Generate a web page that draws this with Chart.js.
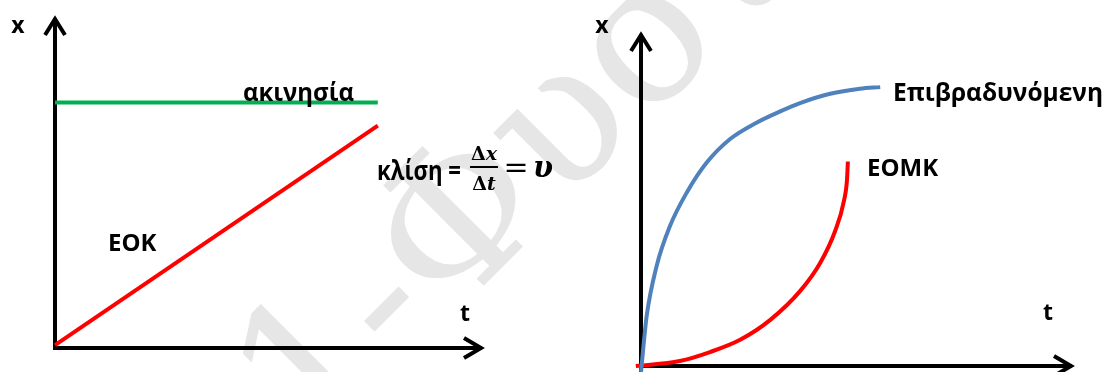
<!DOCTYPE html>
<html>
<head>
<meta charset="utf-8">
<script src="https://cdn.jsdelivr.net/npm/chart.js@4/dist/chart.umd.min.js"></script>
<style>
  html, body { margin: 0; padding: 0; background: #fff; }
  #wrap { position: relative; width: 1104px; height: 372px; overflow: hidden; }
  .mark {
    position: absolute; left: 108px; top: 428px;
    font: 195px 'DejaVu Serif', serif; color: #e6e6e6;
    transform: rotate(-45deg); transform-origin: left top;
    white-space: nowrap; line-height: 1;
  }
  .panel { position: absolute; top: 0; width: 552px; height: 372px; }
  canvas { display: block; }
</style>
</head>
<body>
<div id="wrap">
  <div class="mark">01-Φυσική</div>
  <div class="panel" style="left:0"><canvas id="uniform" width="552" height="372"></canvas></div>
  <div class="panel" style="left:552px"><canvas id="accel" width="552" height="372"></canvas></div>
</div>
<script>
// Axis names
const axisNames = ['x', 't'];

// Left panel: rest and uniform motion (time, position)
const restT = [0, 75.6];
const restX = [74.4, 74.4];
const uniformT = [0, 75.6];
const uniformX = [0.9, 67.4];

// Right panel: decelerating and uniformly accelerated motion
const decelT = [0, 1.3, 3.6, 6.7, 10.6, 15.2, 20.6, 26.8, 32.3, 36.9, 43.9, 50.8, 55.5];
const decelX = [-1.8, 14.9, 30, 42.1, 52.2, 61.2, 68.3, 73.3, 76.7, 79.2, 82, 83.5, 84];
const accelT = [-1.2, 9, 16, 23, 30, 37, 41.6, 45, 47.1, 47.8, 48];
const accelX = [0, 1.5, 4.2, 7.9, 13.9, 22.7, 31.1, 40.5, 49.8, 56.2, 61.6];

const seriesNames = ['ακινησία', 'ΕΟΚ', 'Επιβραδυνόμενη', 'ΕΟΜΚ'];

const pts = (ts, xs) => ts.map((t, i) => ({ x: t, y: xs[i] }));
const SANS = "'Open Sans', 'Noto Sans', sans-serif";
const SERIF = "'DejaVu Serif', 'Liberation Serif', serif";

// Black axes with open arrow heads, drawn under the curves
const arrowAxes = {
  id: 'arrowAxes',
  beforeDatasetsDraw(chart, args, o) {
    const { ctx, chartArea: a } = chart;
    ctx.save();
    ctx.strokeStyle = '#000';
    ctx.lineWidth = 4;
    ctx.lineCap = 'butt';
    ctx.lineJoin = 'miter';
    ctx.beginPath();
    ctx.moveTo(a.left, a.bottom + o.below);
    ctx.lineTo(a.left, a.top);
    ctx.moveTo(a.left - 2, a.bottom);
    ctx.lineTo(a.right, a.bottom);
    ctx.stroke();
    ctx.beginPath();
    ctx.moveTo(a.left - 10, a.top + 17);
    ctx.lineTo(a.left, a.top + 1);
    ctx.lineTo(a.left + 10, a.top + 17);
    ctx.moveTo(a.right - 18, a.bottom - 10);
    ctx.lineTo(a.right - 1, a.bottom);
    ctx.lineTo(a.right - 18, a.bottom + 10);
    ctx.stroke();
    ctx.restore();
  }
};

// Text annotations
const annotations = {
  id: 'annotations',
  afterDatasetsDraw(chart, args, o) {
    const ctx = chart.ctx;
    ctx.save();
    ctx.fillStyle = '#000';
    ctx.textBaseline = 'alphabetic';
    for (const l of o.items) {
      ctx.font = l.font;
      ctx.textAlign = l.align || 'left';
      if (l.w) ctx.fillText(l.text, l.x, l.y, l.w); else ctx.fillText(l.text, l.x, l.y);
    }
    if (o.extra) o.extra(ctx);
    ctx.restore();
  }
};

function pieces(ctx, parts, cx, y) {
  let total = 0;
  for (const p of parts) { ctx.font = p[1]; total += ctx.measureText(p[0]).width; }
  let x = cx - total / 2;
  ctx.textAlign = 'left';
  for (const p of parts) { ctx.font = p[1]; ctx.fillText(p[0], x, y); x += ctx.measureText(p[0]).width; }
}

// Slope formula: κλίση = Δx/Δt = υ
function slopeFormula(ctx) {
  ctx.font = 'bold 26px ' + SANS;
  ctx.textAlign = 'left';
  ctx.fillText('κλίση =', 377, 180, 84);
  const up = 'bold 19px ' + SERIF, it = 'italic bold 19px ' + SERIF;
  pieces(ctx, [['Δ', up], ['x', it]], 484, 160);
  pieces(ctx, [['Δ', up], ['t', it]], 484, 190);
  ctx.fillRect(470, 166, 28, 2);
  ctx.font = '30px ' + SERIF;
  ctx.textAlign = 'center';
  ctx.fillText('=', 516, 177);
  ctx.font = 'italic bold 29px ' + SERIF;
  ctx.textAlign = 'left';
  ctx.fillText('υ', 533, 177);
}

function baseOptions(padding, below, items, extra) {
  return {
    responsive: false,
    animation: false,
    layout: { padding },
    scales: {
      x: { type: 'linear', min: 0, max: 100, display: false },
      y: { type: 'linear', min: 0, max: 100, display: false }
    },
    elements: { point: { radius: 0 } },
    plugins: {
      legend: { display: false },
      tooltip: { enabled: false },
      arrowAxes: { below },
      annotations: { items, extra }
    }
  };
}

const lbl = 'bold 23px ' + SANS;

new Chart(document.getElementById('uniform'), {
  type: 'line',
  data: {
    datasets: [
      { label: seriesNames[0], data: pts(restT, restX), borderColor: '#00B050', borderWidth: 4, tension: 0, clip: false },
      { label: seriesNames[1], data: pts(uniformT, uniformX), borderColor: '#FF0000', borderWidth: 4, tension: 0, clip: false }
    ]
  },
  options: baseOptions({ left: 55, right: 70, top: 18, bottom: 24 }, 2, [
    { text: axisNames[0], x: 18, y: 33, font: lbl, align: 'center' },
    { text: axisNames[1], x: 465, y: 321, font: lbl, align: 'center' },
    { text: seriesNames[0], x: 243, y: 101, font: 'bold 25px ' + SANS, w: 111 },
    { text: seriesNames[1], x: 108, y: 251, font: 'bold 24px ' + SANS }
  ], slopeFormula),
  plugins: [arrowAxes, annotations]
});

new Chart(document.getElementById('accel'), {
  type: 'line',
  data: {
    datasets: [
      { label: seriesNames[2], data: pts(decelT, decelX), borderColor: '#4F81BD', borderWidth: 4, cubicInterpolationMode: 'monotone', clip: false },
      { label: seriesNames[3], data: pts(accelT, accelX), borderColor: '#FF0000', borderWidth: 4, cubicInterpolationMode: 'monotone', clip: false }
    ]
  },
  options: baseOptions({ left: 89, right: 32, top: 34, bottom: 6 }, 8, [
    { text: axisNames[0], x: 50, y: 33, font: lbl, align: 'center' },
    { text: axisNames[1], x: 496, y: 320, font: lbl, align: 'center' },
    { text: seriesNames[2], x: 341, y: 101, font: 'bold 25px ' + SANS, w: 210 },
    { text: seriesNames[3], x: 315, y: 176, font: 'bold 24px ' + SANS, w: 73 }
  ]),
  plugins: [arrowAxes, annotations]
});
</script>
</body>
</html>
